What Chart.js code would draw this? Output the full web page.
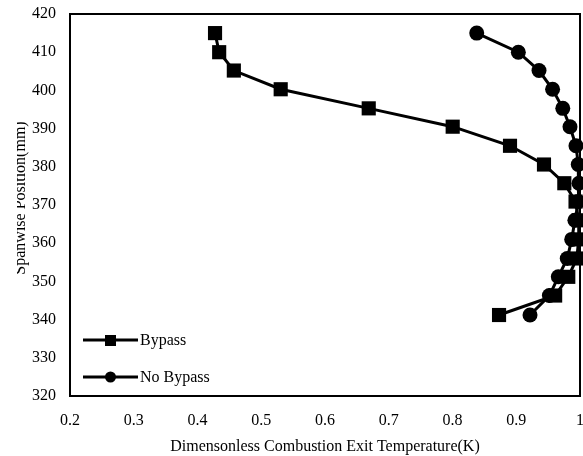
<!DOCTYPE html>
<html>
<head>
<meta charset="utf-8">
<script src="https://cdn.jsdelivr.net/npm/chart.js@4"></script>
<style>
  html, body { margin: 0; padding: 0; background: #fff; }
  #wrap { width: 583px; height: 456px; }
</style>
</head>
<body>
<div id="wrap"><canvas id="c" width="583" height="456"></canvas></div>
<script>
// ---- data ----
const spanwisePositions = [415, 410, 405.2, 400.3, 395.3, 390.5, 385.5, 380.6, 375.7, 370.9, 366, 361, 356, 351.2, 346.3, 341.2];
const bypassTemps = [0.4275, 0.434, 0.457, 0.5305, 0.6686, 0.8003, 0.8902, 0.9435, 0.9754, 0.993, 0.998, 0.998, 0.995, 0.9816, 0.961, 0.873];
const noBypassTemps = [0.838, 0.9033, 0.9357, 0.957, 0.973, 0.9843, 0.9937, 0.9973, 0.9984, 0.997, 0.992, 0.987, 0.98, 0.966, 0.952, 0.9216];
const seriesNames = ['Bypass', 'No Bypass'];
const xTitle = 'Dimensonless Combustion Exit Temperature(K)';
const yTitle = 'Spanwise Position(mm)';
const xRange = [0.2, 1];
const yRange = [320, 420];

const FONT = "'Liberation Serif', 'Times New Roman', serif";
Chart.defaults.font.family = FONT;
Chart.defaults.font.size = 16;
Chart.defaults.color = '#000';

function pts(xs) { return xs.map((x, i) => ({ x: x, y: spanwisePositions[i] })); }

const PLOT_RIGHT = 580;

const areaPlugin = {
  id: 'areaFix',
  afterLayout(chart) {
    const a = chart.chartArea;
    const x = chart.scales.x;
    a.right = PLOT_RIGHT;
    a.width = a.right - a.left;
    x.right = PLOT_RIGHT;
    x.width = x.right - x.left;
    x.configure();
  }
};

const framePlugin = {
  id: 'frame',
  beforeDatasetsDraw(chart) {
    const { ctx, chartArea: a } = chart;
    ctx.save();
    ctx.strokeStyle = '#000';
    ctx.lineWidth = 2;
    ctx.strokeRect(a.left, a.top, a.right - a.left, a.bottom - a.top);
    ctx.restore();
  }
};

const yTitlePlugin = {
  id: 'ytitle',
  afterDraw(chart) {
    const { ctx } = chart;
    ctx.save();
    ctx.beginPath();
    ctx.rect(17, 0, 40, chart.height);
    ctx.clip();
    ctx.translate(25, 198);
    ctx.rotate(-Math.PI / 2);
    ctx.font = '16px ' + FONT;
    ctx.fillStyle = '#000';
    ctx.textAlign = 'center';
    ctx.textBaseline = 'alphabetic';
    ctx.fillText(yTitle, 0, 0);
    ctx.restore();
  }
};

const legendPlugin = {
  id: 'customLegend',
  afterDatasetsDraw(chart) {
    const { ctx } = chart;
    const rows = [340, 377];
    chart.data.datasets.forEach((ds, i) => {
      const y = rows[i];
      ctx.save();
      ctx.strokeStyle = '#000';
      ctx.lineWidth = 3;
      ctx.beginPath();
      ctx.moveTo(83, y);
      ctx.lineTo(138, y);
      ctx.stroke();
      ctx.fillStyle = '#000';
      if (ds.pointStyle === 'rect') {
        ctx.fillRect(105, y - 5, 11, 11);
      } else {
        ctx.beginPath();
        ctx.arc(110.5, y, 5.5, 0, Math.PI * 2);
        ctx.fill();
      }
      ctx.font = '16px ' + FONT;
      ctx.textAlign = 'left';
      ctx.textBaseline = 'middle';
      ctx.fillText(ds.label, 140, y + 1);
      ctx.restore();
    });
  }
};

new Chart(document.getElementById('c'), {
  type: 'scatter',
  data: {
    datasets: [
      {
        label: seriesNames[0],
        data: pts(bypassTemps),
        showLine: true,
        borderColor: '#000',
        backgroundColor: '#000',
        borderWidth: 3,
        pointStyle: 'rect',
        pointRadius: 10,
        pointBorderWidth: 0,
        pointHoverRadius: 10,
        clip: false
      },
      {
        label: seriesNames[1],
        data: pts(noBypassTemps),
        showLine: true,
        borderColor: '#000',
        backgroundColor: '#000',
        borderWidth: 3,
        pointStyle: 'circle',
        pointRadius: 7.5,
        pointBorderWidth: 0,
        pointHoverRadius: 7.5,
        clip: false
      }
    ]
  },
  options: {
    responsive: false,
    animation: false,
    events: [],
    layout: { padding: { left: 0, right: 3, top: 14, bottom: 0 } },
    plugins: {
      legend: { display: false },
      tooltip: { enabled: false }
    },
    scales: {
      x: {
        type: 'linear',
        min: xRange[0],
        max: xRange[1],
        ticks: {
          stepSize: 0.1, padding: 15, color: '#000', maxRotation: 0, font: { size: 16 },
          callback: (v) => String(Number(v.toFixed(1)))
        },
        grid: { display: false, drawTicks: false },
        border: { display: false },
        title: { display: true, text: xTitle, color: '#000', font: { size: 16, lineHeight: 1 }, padding: { top: 0, bottom: 1 } },
        afterFit(s) { s.height = 60; s.paddingLeft = 0; s.paddingRight = 0; }
      },
      y: {
        type: 'linear',
        min: yRange[0],
        max: yRange[1],
        ticks: { stepSize: 10, padding: 14, color: '#000', font: { size: 16 } },
        grid: { display: false, drawTicks: false },
        border: { display: false },
        afterFit(s) { s.width = 70; s.paddingTop = 0; s.paddingBottom = 0; }
      }
    }
  },
  plugins: [areaPlugin, framePlugin, legendPlugin, yTitlePlugin]
});
</script>
</body>
</html>
